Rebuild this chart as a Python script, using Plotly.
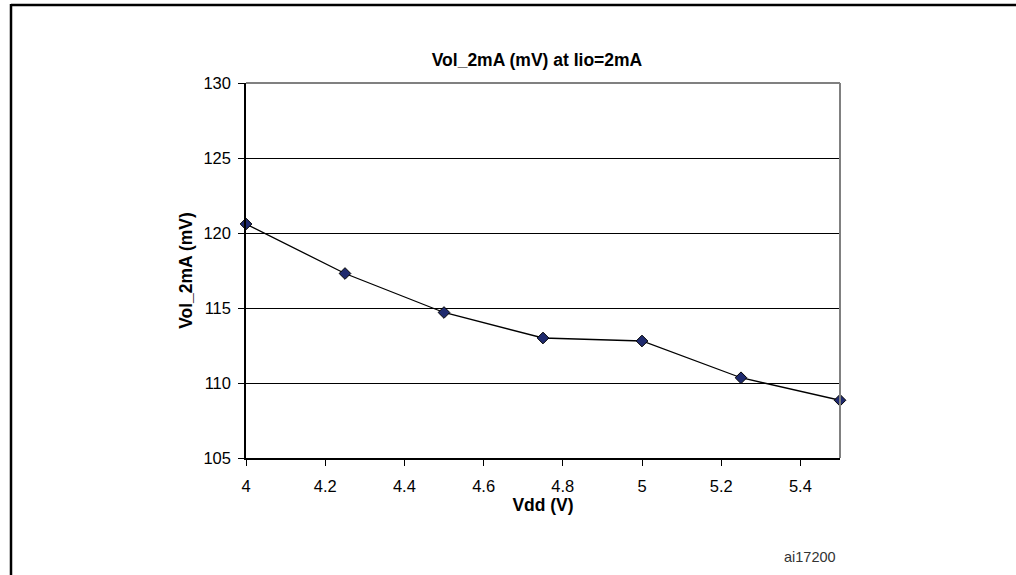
import plotly.graph_objects as go

# Vdd supply voltage (V) and measured Vol at Iio=2mA (mV)
vdd = [4.0, 4.25, 4.5, 4.75, 5.0, 5.25, 5.5]
vol_2ma = [120.6, 117.3, 114.7, 113.0, 112.8, 110.35, 108.85]

x_ticks = [4, 4.2, 4.4, 4.6, 4.8, 5, 5.2, 5.4]
x_tick_text = ['4', '4.2', '4.4', '4.6', '4.8', '5', '5.2', '5.4']
y_ticks = [105, 110, 115, 120, 125, 130]

FONT = 'Arial, "Liberation Sans", sans-serif'

W, H = 1016, 575
L, R, T, B = 246, 840, 83, 458  # plot area in pixels


def px(x):
    return (x - L) / (R - L)


def py(y):
    return (B - y) / (B - T)


fig = go.Figure()

fig.add_trace(go.Scatter(
    x=vdd, y=vol_2ma, mode='lines+markers',
    line=dict(color='black', width=1.3),
    marker=dict(symbol='diamond', size=9, color='#1f2a6e',
                line=dict(color='black', width=1)),
    cliponaxis=False, showlegend=False
))

fig.update_layout(
    width=W, height=H,
    margin=dict(l=L, r=W - R, t=T, b=H - B),
    paper_bgcolor='white', plot_bgcolor='white',
    font=dict(family=FONT, color='black', size=16),
    title=dict(text='<b>Vol_2mA (mV) at Iio=2mA</b>', x=537 / W, xanchor='center',
               y=1 - 60 / H, yanchor='middle', font=dict(size=17.5)),
    xaxis=dict(
        range=[4, 5.5], tickvals=x_ticks, ticktext=x_tick_text,
        showgrid=False, zeroline=False,
        showline=True, linecolor='black', linewidth=1.5,
        ticks='outside', ticklen=6, tickcolor='black',
        ticklabelstandoff=6,
        tickfont=dict(size=16.5),
        title=dict(text='<b>Vdd (V)</b>', standoff=0, font=dict(size=17.5)),
    ),
    yaxis=dict(
        range=[105, 130], tickvals=y_ticks,
        showgrid=True, gridcolor='black', gridwidth=1,
        zeroline=False,
        showline=True, linecolor='black', linewidth=1.5,
        ticks='outside', ticklen=6, tickcolor='black',
        ticklabelstandoff=4,
        tickfont=dict(size=16.5),
        title=dict(text='<b>Vol_2mA (mV)</b>', standoff=6, font=dict(size=17.5)),
    ),
)

# grey plot-area border on top and right
fig.add_shape(type='line', xref='paper', yref='paper', x0=0, x1=1, y0=1, y1=1,
              line=dict(color='#808080', width=2), layer='above')
fig.add_shape(type='line', xref='paper', yref='paper', x0=1, x1=1, y0=0, y1=1,
              line=dict(color='#808080', width=2), layer='above')

# outer figure frame (top and left edges visible)
fig.add_shape(type='line', xref='paper', yref='paper',
              x0=px(11), x1=px(W + 20), y0=py(5), y1=py(5),
              line=dict(color='black', width=2.5))
fig.add_shape(type='line', xref='paper', yref='paper',
              x0=px(11), x1=px(11), y0=py(4), y1=py(H + 20),
              line=dict(color='black', width=2.5))

# figure caption, cut off at the top of the page
fig.add_annotation(text='<b>Figure 41. V<sub>OL_2mA</sub> versus V<sub>DD</sub></b>',
                   xref='paper', yref='paper', x=px(22), xanchor='left',
                   y=py(-5), yanchor='bottom', showarrow=False,
                   font=dict(size=14))

fig.add_annotation(text='ai17200', xref='paper', yref='paper',
                   x=px(810), y=py(557),
                   xanchor='center', yanchor='middle', showarrow=False,
                   font=dict(size=14.5, color='#333333'))

# the page body keeps its default 8px margin otherwise
fig.write_html("out.html", config={'displayModeBar': False},
               post_script="document.body.style.margin='0';document.body.style.overflow='hidden';")
